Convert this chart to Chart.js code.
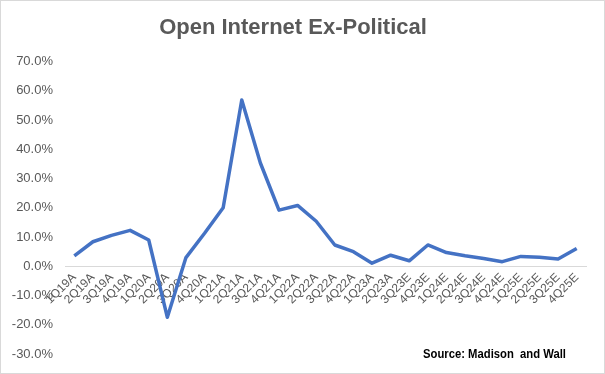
<!DOCTYPE html>
<html>
<head>
<meta charset="utf-8">
<script src="https://cdn.jsdelivr.net/npm/chart.js@4"></script>
<style>
  html, body { margin: 0; padding: 0; background: #fff; }
  #wrap { width: 605px; height: 374px; position: relative; }
</style>
</head>
<body>
<div id="wrap"><canvas id="chart"></canvas></div>
<script>
const quarters = ['1Q19A','2Q19A','3Q19A','4Q19A','1Q20A','2Q20A','3Q20A','4Q20A',
  '1Q21A','2Q21A','3Q21A','4Q21A','1Q22A','2Q22A','3Q22A','4Q22A',
  '1Q23A','2Q23A','3Q23E','4Q23E','1Q24E','2Q24E','3Q24E','4Q24E',
  '1Q25E','2Q25E','3Q25E','4Q25E'];
const growth = [3.6, 8.4, 10.6, 12.3, 9.0, -17.4, 3.0, 11.3,
  20.0, 56.8, 35.3, 19.2, 20.8, 15.4, 7.3, 5.0,
  1.1, 3.8, 1.9, 7.3, 4.7, 3.6, 2.7, 1.6,
  3.4, 3.1, 2.5, 6.1];
const yMin = -30, yMax = 70, yStep = 10;
const sourceNote = 'Source: Madison  and Wall';

const grey = '#595959';

// white background, thin chart border and the source note
const framePlugin = {
  id: 'frame',
  beforeDraw(chart) {
    const ctx = chart.ctx;
    ctx.save();
    ctx.fillStyle = '#fff';
    ctx.fillRect(0, 0, chart.width, chart.height);
    ctx.strokeStyle = '#d9d9d9';
    ctx.lineWidth = 1;
    ctx.strokeRect(0.5, 0.5, chart.width - 1, chart.height - 1);
    ctx.restore();
  },
  afterDraw(chart) {
    const ctx = chart.ctx;
    ctx.save();
    ctx.fillStyle = '#000';
    ctx.font = 'bold 13px "Liberation Sans", Arial, sans-serif';
    ctx.textAlign = 'left';
    ctx.textBaseline = 'alphabetic';
    ctx.fillText(sourceNote, 423, 358, 143);
    ctx.restore();
  }
};

new Chart(document.getElementById('chart'), {
  type: 'line',
  data: {
    labels: quarters,
    datasets: [{
      label: 'Open Internet Ex-Political',
      data: growth,
      borderColor: '#4472C4',
      backgroundColor: '#4472C4',
      borderWidth: 3.5,
      pointRadius: 0,
      tension: 0,
      borderJoinStyle: 'round'
    }]
  },
  options: {
    responsive: true,
    maintainAspectRatio: false,
    animation: false,
    layout: { padding: { left: 0, right: 19, top: 0, bottom: 19 } },
    plugins: {
      legend: { display: false },
      tooltip: { enabled: false },
      title: {
        display: true,
        text: 'Open Internet Ex-Political',
        color: grey,
        font: { family: '"Liberation Sans", Arial, sans-serif', size: 22, weight: 'bold' },
        padding: { top: 15, bottom: 20 }
      }
    },
    scales: {
      x: {
        position: { y: 0 },
        offset: true,
        grid: { display: false, drawTicks: false },
        border: { display: true, color: '#d9d9d9', width: 1 },
        ticks: {
          autoSkip: false, minRotation: 45, maxRotation: 45,
          color: grey, padding: 4,
          font: { family: '"Liberation Sans", Arial, sans-serif', size: 12 }
        }
      },
      y: {
        min: yMin, max: yMax,
        grid: { display: false, drawTicks: false },
        border: { display: false },
        afterFit(scale) { scale.width = 65; },
        ticks: {
          stepSize: yStep,
          color: grey, padding: 12,
          font: { family: '"Liberation Sans", Arial, sans-serif', size: 13 },
          callback: v => v.toFixed(1) + '%'
        }
      }
    }
  },
  plugins: [framePlugin]
});
</script>
</body>
</html>
